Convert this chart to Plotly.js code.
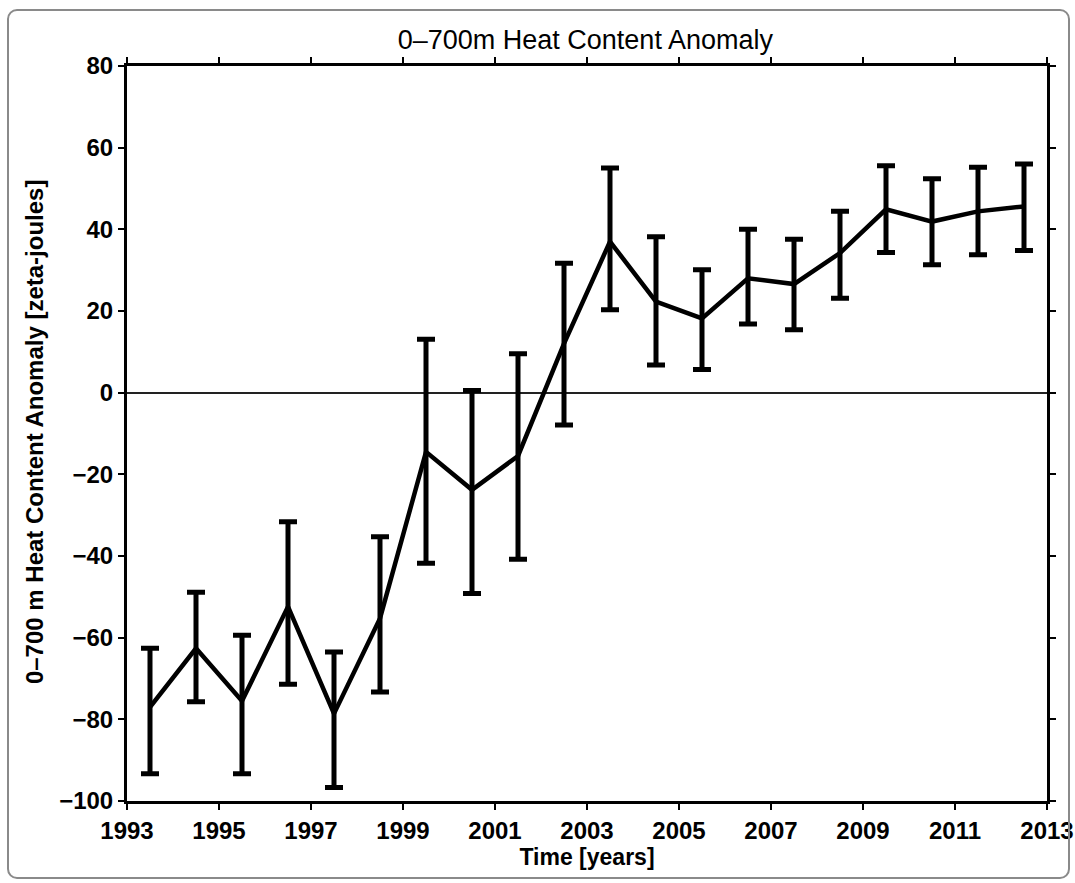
<!DOCTYPE html>
<html>
<head>
<meta charset="utf-8">
<script src="https://cdn.plot.ly/plotly-3.0.1.min.js"></script>
<style>
  html, body { margin: 0; padding: 0; background: #ffffff; }
  #wrap { position: relative; width: 1075px; height: 883px; }
  #chart { width: 1075px; height: 883px; }
  #frame { position: absolute; left: 7px; top: 9px; width: 1063px; height: 870px;
           border: 2px solid #8a8a8a; border-radius: 10px; pointer-events: none; box-sizing: border-box; }
</style>
</head>
<body>
<div id="wrap">
  <div id="chart"></div>
  <div id="frame"></div>
</div>
<script>
const years = [1993.5, 1994.5, 1995.5, 1996.5, 1997.5, 1998.5, 1999.5, 2000.5, 2001.5, 2002.5,
               2003.5, 2004.5, 2005.5, 2006.5, 2007.5, 2008.5, 2009.5, 2010.5, 2011.5, 2012.5];
const anomaly = [-77, -62.6, -75.5, -52.4, -78.6, -55.3, -14.5, -23.8, -15.5, 12,
                 37, 22.3, 18.2, 28, 26.6, 34.2, 44.9, 41.9, 44.4, 45.6];
const upper = [-62.6, -48.9, -59.4, -31.6, -63.5, -35.3, 13.1, 0.5, 9.5, 31.7,
               55, 38.2, 30.1, 40, 37.6, 44.4, 55.6, 52.4, 55.2, 56];
const lower = [-93.3, -75.7, -93.3, -71.4, -96.7, -73.3, -41.8, -49.2, -40.8, -7.9,
               20.3, 6.8, 5.7, 16.8, 15.4, 23.1, 34.3, 31.3, 33.8, 34.8];
const xTicks = [1993, 1995, 1997, 1999, 2001, 2003, 2005, 2007, 2009, 2011, 2013];
const yTicks = [-100, -80, -60, -40, -20, 0, 20, 40, 60, 80];
const titleText = '0–700m Heat Content Anomaly';
const xTitle = 'Time [years]';
const yTitle = '0–700 m Heat Content Anomaly [zeta-joules]';

const errPlus = upper.map((u, i) => u - anomaly[i]);
const errMinus = anomaly.map((a, i) => a - lower[i]);

const trace = {
  x: years, y: anomaly, type: 'scatter', mode: 'lines',
  line: { color: '#000000', width: 4.5 },
  error_y: { type: 'data', symmetric: false, array: errPlus, arrayminus: errMinus,
             color: '#000000', thickness: 5, width: 9 },
  hoverinfo: 'x+y', showlegend: false
};

const FAM = 'Liberation Sans, Arial, Helvetica, sans-serif';
const tickFont = { family: FAM, size: 24, color: '#000', weight: 'bold' };

const layout = {
  width: 1075, height: 883,
  margin: { l: 127, r: 28, t: 66, b: 82 },
  paper_bgcolor: '#ffffff', plot_bgcolor: '#ffffff',
  title: { text: titleText, x: 0.5445, xanchor: 'center', y: 0.955, yanchor: 'middle',
           font: { family: FAM, size: 27, color: '#000' } },
  xaxis: {
    range: [1993, 2013], tickmode: 'array', tickvals: xTicks, ticktext: xTicks.map(String),
    ticks: 'outside', ticklen: 6, tickwidth: 2, tickcolor: '#000',
    showline: true, linecolor: '#000', linewidth: 3, mirror: 'ticks',
    showgrid: false, zeroline: false, tickfont: tickFont,
    title: { text: xTitle, standoff: 0,
             font: { family: FAM, size: 23, color: '#000', weight: 'bold' } }
  },
  yaxis: {
    range: [-100, 80], tickmode: 'array', tickvals: yTicks, ticktext: yTicks.map(v => v < 0 ? '−' + Math.abs(v) : String(v)),
    ticks: 'outside', ticklen: 6, tickwidth: 2, tickcolor: '#000',
    showline: true, linecolor: '#000', linewidth: 3, mirror: 'ticks',
    showgrid: false, zeroline: true, zerolinecolor: '#222', zerolinewidth: 2,
    tickfont: tickFont
  },
  annotations: [{
    text: yTitle, textangle: -90, showarrow: false,
    xref: 'paper', yref: 'paper', x: -0.101, y: 0.502, xanchor: 'center', yanchor: 'middle',
    font: { family: FAM, size: 24, color: '#000', weight: 'bold' }
  }]
};

Plotly.newPlot('chart', [trace], layout, { displayModeBar: false, staticPlot: true });
</script>
</body>
</html>
